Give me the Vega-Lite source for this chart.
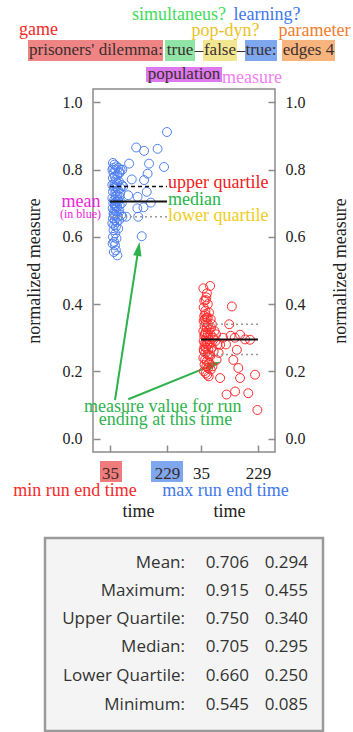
{
 "$schema": "https://vega.github.io/schema/vega-lite/v6.json",
 "width": 182,
 "height": 363,
 "autosize": {"type": "none"},
 "padding": {"left": 93, "top": 89, "right": 78, "bottom": 280},
 "background": "white",
 "config": {
  "font": "Liberation Serif",
  "view": {"stroke": "#8c8c8c", "strokeWidth": 1.5},
  "axis": {"domain": false, "grid": false, "tickSize": -7, "tickColor": "#8c8c8c", "tickWidth": 1.5, "labelFont": "Liberation Serif", "labelFontSize": 16, "labelColor": "#222222", "titleFont": "Liberation Serif", "titleFontSize": 18, "titleFontWeight": "normal", "titleColor": "#222222"}
 },
 "datasets": {
  "table": [
   {"txt": "Mean:", "t": 290.4, "v": -0.3842}, {"txt": "0.706", "t": 508.4, "v": -0.3842}, {"txt": "0.294", "t": 709.4, "v": -0.3842},
   {"txt": "Maximum:", "t": 290.4, "v": -0.4684}, {"txt": "0.915", "t": 508.4, "v": -0.4684}, {"txt": "0.455", "t": 709.4, "v": -0.4684},
   {"txt": "Upper Quartile:", "t": 290.4, "v": -0.5526}, {"txt": "0.750", "t": 508.4, "v": -0.5526}, {"txt": "0.340", "t": 709.4, "v": -0.5526},
   {"txt": "Median:", "t": 290.4, "v": -0.6359}, {"txt": "0.705", "t": 508.4, "v": -0.6359}, {"txt": "0.295", "t": 709.4, "v": -0.6359},
   {"txt": "Lower Quartile:", "t": 290.4, "v": -0.7213}, {"txt": "0.660", "t": 508.4, "v": -0.7213}, {"txt": "0.250", "t": 709.4, "v": -0.7213},
   {"txt": "Minimum:", "t": 290.4, "v": -0.8085}, {"txt": "0.545", "t": 508.4, "v": -0.8085}, {"txt": "0.085", "t": 709.4, "v": -0.8085}
  ],
  "blue": [
   {"t":45,"v":0.82},{"t":50,"v":0.815},{"t":57,"v":0.81},{"t":43,"v":0.80},{"t":53,"v":0.80},{"t":63,"v":0.805},{"t":47,"v":0.79},{"t":60,"v":0.785},{"t":67,"v":0.79},{"t":45,"v":0.775},
   {"t":55,"v":0.77},{"t":50,"v":0.76},{"t":65,"v":0.765},{"t":43,"v":0.755},{"t":57,"v":0.75},{"t":48,"v":0.745},{"t":62,"v":0.74},{"t":71,"v":0.745},{"t":45,"v":0.735},{"t":53,"v":0.73},
   {"t":60,"v":0.725},{"t":67,"v":0.72},{"t":43,"v":0.715},{"t":49,"v":0.71},{"t":56,"v":0.705},{"t":63,"v":0.705},{"t":46,"v":0.70},{"t":52,"v":0.695},{"t":59,"v":0.69},{"t":68,"v":0.695},
   {"t":44,"v":0.685},{"t":50,"v":0.68},{"t":57,"v":0.675},{"t":65,"v":0.68},{"t":47,"v":0.67},{"t":53,"v":0.665},{"t":61,"v":0.66},{"t":73,"v":0.665},{"t":45,"v":0.655},{"t":51,"v":0.65},
   {"t":58,"v":0.645},{"t":66,"v":0.65},{"t":43,"v":0.64},{"t":49,"v":0.635},{"t":55,"v":0.63},{"t":63,"v":0.625},{"t":47,"v":0.62},{"t":53,"v":0.61},{"t":45,"v":0.60},{"t":57,"v":0.595},
   {"t":49,"v":0.585},{"t":52,"v":0.575},{"t":44,"v":0.58},{"t":55,"v":0.56},{"t":60,"v":0.545},{"t":48,"v":0.555},{"t":51,"v":0.70},{"t":55,"v":0.72},{"t":49,"v":0.75},{"t":59,"v":0.76},
   {"t":51,"v":0.78},{"t":46,"v":0.805},{"t":54,"v":0.69},{"t":48,"v":0.665},{"t":62,"v":0.71},{"t":69,"v":0.73},{"t":75,"v":0.70},{"t":77,"v":0.66},{"t":80,"v":0.75},{"t":71,"v":0.80},
   {"t":229,"v":0.912},{"t":124,"v":0.866},{"t":151,"v":0.856},{"t":197,"v":0.862},{"t":168,"v":0.818},{"t":219,"v":0.808},{"t":100,"v":0.818},{"t":163,"v":0.788},{"t":151,"v":0.769},{"t":109,"v":0.771},
   {"t":160,"v":0.734},{"t":129,"v":0.719},{"t":174,"v":0.702},{"t":149,"v":0.688},{"t":128,"v":0.685},{"t":131,"v":0.66},{"t":143,"v":0.602},{"t":97,"v":0.724},{"t":90,"v":0.66},{"t":77,"v":0.80},
   {"t":67,"v":0.793},{"t":75,"v":0.754}
  ],
  "red": [
   {"t":43,"v":0.447},{"t":55,"v":0.432},{"t":66,"v":0.454},{"t":51,"v":0.412},{"t":46,"v":0.41},{"t":58,"v":0.40},{"t":44,"v":0.39},{"t":50,"v":0.38},{"t":62,"v":0.375},{"t":46,"v":0.365},
   {"t":54,"v":0.36},{"t":68,"v":0.355},{"t":44,"v":0.35},{"t":51,"v":0.345},{"t":59,"v":0.34},{"t":72,"v":0.34},{"t":47,"v":0.335},{"t":55,"v":0.33},{"t":64,"v":0.325},{"t":43,"v":0.32},
   {"t":50,"v":0.315},{"t":58,"v":0.31},{"t":67,"v":0.31},{"t":46,"v":0.305},{"t":53,"v":0.30},{"t":61,"v":0.295},{"t":76,"v":0.30},{"t":44,"v":0.29},{"t":49,"v":0.285},{"t":56,"v":0.28},
   {"t":65,"v":0.285},{"t":47,"v":0.275},{"t":52,"v":0.27},{"t":60,"v":0.265},{"t":71,"v":0.27},{"t":45,"v":0.26},{"t":50,"v":0.255},{"t":57,"v":0.25},{"t":66,"v":0.245},{"t":43,"v":0.24},
   {"t":49,"v":0.235},{"t":55,"v":0.23},{"t":63,"v":0.225},{"t":47,"v":0.22},{"t":53,"v":0.215},{"t":59,"v":0.21},{"t":68,"v":0.205},{"t":45,"v":0.20},{"t":51,"v":0.195},{"t":56,"v":0.19},
   {"t":61,"v":0.185},{"t":48,"v":0.355},{"t":54,"v":0.29},{"t":62,"v":0.25},{"t":50,"v":0.37},{"t":44,"v":0.265},{"t":58,"v":0.36},{"t":53,"v":0.42},{"t":48,"v":0.31},{"t":69,"v":0.33},
   {"t":81,"v":0.32},{"t":78,"v":0.26},{"t":84,"v":0.29},{"t":91,"v":0.28},{"t":74,"v":0.215},{"t":86,"v":0.31},
   {"t":140,"v":0.393},{"t":131,"v":0.34},{"t":168,"v":0.309},{"t":202,"v":0.294},{"t":136,"v":0.306},{"t":100,"v":0.279},{"t":157,"v":0.264},{"t":145,"v":0.234},{"t":162,"v":0.21},{"t":168,"v":0.18},
   {"t":219,"v":0.19},{"t":122,"v":0.131},{"t":151,"v":0.14},{"t":196,"v":0.135},{"t":227,"v":0.085},{"t":100,"v":0.18},{"t":88,"v":0.234},{"t":110,"v":0.30},{"t":120,"v":0.28},{"t":95,"v":0.255},
   {"t":150,"v":0.30},{"t":185,"v":0.295}
  ]
 },
 "layer": [
  {
   "encoding": {
    "x": {"field": "t", "type": "quantitative", "scale": {"domain": [-23, 597], "nice": false, "zero": false},
     "axis": {"orient": "bottom", "zindex": 2, "values": [35, 229], "title": "time", "titleX": 45, "titleY": 64.7, "titleBaseline": "alphabetic", "titleAlign": "center", "labelFontSize": 17, "labelPadding": 20, "labelColor": "#3a2a2a"}},
    "y": {"field": "v", "type": "quantitative", "scale": {"domain": [-0.04, 1.04], "nice": false, "zero": false},
     "axis": {"orient": "left", "zindex": 2, "values": [0, 0.2, 0.4, 0.6, 0.8, 1], "format": ".1f", "labelPadding": 18, "title": "normalized measure", "titlePadding": 19}}
   },
   "layer": [
    {"data": {"values": [{"t": -186.5, "t2": 760.5, "v": -0.2959, "v2": -0.8701}]},
     "mark": {"type": "rect", "fill": "#f4f4f4", "stroke": "#9a9a9a", "strokeWidth": 2.5},
     "encoding": {"x2": {"field": "t2"}, "y2": {"field": "v2"}}},
    {"data": {"name": "table"},
     "mark": {"type": "text", "font": "Open Sans", "fontSize": 17, "align": "right", "baseline": "alphabetic", "color": "#333333"},
     "encoding": {"text": {"field": "txt"}}},
    {"data": {"values": [
      {"k": "bgame", "t": -244.4, "t2": 215.5, "v": 1.1858, "v2": 1.1233},
      {"k": "bsim", "t": 222.3, "t2": 324.5, "v": 1.1858, "v2": 1.1233},
      {"k": "bpop", "t": 351.7, "t2": 467.5, "v": 1.1858, "v2": 1.1233},
      {"k": "blearn", "t": 494.8, "t2": 603.8, "v": 1.1858, "v2": 1.1233},
      {"k": "bparam", "t": 620.8, "t2": 801.4, "v": 1.1858, "v2": 1.1233},
      {"k": "bpopu", "t": 157.5, "t2": 416.5, "v": 1.1055, "v2": 1.0608},
      {"k": "blo", "t": 0.85, "t2": 75.8, "v": -0.0668, "v2": -0.1293},
      {"k": "bhi", "t": 174.6, "t2": 283.6, "v": -0.0668, "v2": -0.1293}]},
     "mark": {"type": "rect"},
     "encoding": {"x2": {"field": "t2"}, "y2": {"field": "v2"},
      "color": {"field": "k", "type": "nominal", "legend": null, "scale": {"domain": ["game","sim","pop","learn","param","meas","uq","med","lq","mean","note","minr","maxr","bgame","bsim","bpop","blearn","bparam","bpopu","blo","bhi"], "range": ["#f42a2a","#3ddc5a","#e9c227","#3f78ec","#f27c2c","#f27ff2","#ee2020","#25b548","#f0cc1c","#ee22dd","#2fb24d","#f42a2a","#3f78ec","#ef8484","#8fe4a6","#f3e690","#7ea7ef","#f7b47c","#de78ee","#ef7b7b","#7ea7ef"]}}}},
    {"data": {"values": [
      {"txt": "simultaneus?", "k": "sim", "t": 270, "v": 1.2453},
      {"txt": "learning?", "k": "learn", "t": 569.7, "v": 1.2453},
      {"txt": "game", "k": "game", "t": -208.7, "v": 1.2007},
      {"txt": "pop-dyn?", "k": "pop", "t": 428.4, "v": 1.1977},
      {"txt": "parameter", "k": "param", "t": 731.6, "v": 1.1977},
      {"txt": "measure", "k": "meas", "t": 518.6, "v": 1.0579},
      {"txt": "mean", "k": "mean", "t": -63.9, "v": 0.6898},
      {"txt": "measure value for run", "k": "note", "t": 214.4, "v": 0.0799},
      {"txt": "ending at this time", "k": "note", "t": 224, "v": 0.0403},
      {"txt": "min run end time", "k": "minr", "t": -84.3, "v": -0.1709},
      {"txt": "max run end time", "k": "maxr", "t": 428.4, "v": -0.1709}]},
     "mark": {"type": "text", "fontSize": 18, "align": "center", "baseline": "alphabetic"},
     "encoding": {"text": {"field": "txt"},
      "color": {"field": "k", "type": "nominal", "legend": null, "scale": {"domain": ["game","sim","pop","learn","param","meas","uq","med","lq","mean","note","minr","maxr","bgame","bsim","bpop","blearn","bparam","bpopu","blo","bhi"], "range": ["#f42a2a","#3ddc5a","#e9c227","#3f78ec","#f27c2c","#f27ff2","#ee2020","#25b548","#f0cc1c","#ee22dd","#2fb24d","#f42a2a","#3f78ec","#ef8484","#8fe4a6","#f3e690","#7ea7ef","#f7b47c","#de78ee","#ef7b7b","#7ea7ef"]}}}},
    {"data": {"values": [
      {"txt": "prisoners' dilemma:", "t": -13, "v": 1.1426},
      {"txt": "true", "t": 273.4, "v": 1.1426},
      {"txt": "–", "t": 338.1, "v": 1.1426},
      {"txt": "false", "t": 409.6, "v": 1.1426},
      {"txt": "–", "t": 481.2, "v": 1.1426},
      {"txt": "true:", "t": 549.3, "v": 1.1426},
      {"txt": "edges 4", "t": 711.1, "v": 1.1426},
      {"txt": "population", "t": 287, "v": 1.0698}]},
     "mark": {"type": "text", "fontSize": 17, "align": "center", "baseline": "alphabetic", "color": "#3b2f2f"},
     "encoding": {"text": {"field": "txt"}}},
    {"data": {"name": "blue"},
     "mark": {"type": "point", "shape": "circle", "filled": false, "size": 80, "strokeWidth": 1, "color": "#4f7ff0", "opacity": 1}},
    {"data": {"values": [{"stat": "upper quartile", "t": 35, "t2": 229, "v": 0.750}]},
     "mark": {"type": "rule", "color": "#111111", "strokeWidth": 1.5, "strokeDash": [4, 3]},
     "encoding": {"x2": {"field": "t2"}}},
    {"data": {"values": [{"stat": "median", "t": 35, "t2": 229, "v": 0.705}]},
     "mark": {"type": "rule", "color": "#111111", "strokeWidth": 2},
     "encoding": {"x2": {"field": "t2"}}},
    {"data": {"values": [{"stat": "lower quartile", "t": 35, "t2": 229, "v": 0.660}]},
     "mark": {"type": "rule", "color": "#999999", "strokeWidth": 1.5, "strokeDash": [2, 3]},
     "encoding": {"x2": {"field": "t2"}}},
    {"data": {"values": [
      {"txt": "upper quartile", "k": "uq", "t": 232.5, "v": 0.7446},
      {"txt": "median", "k": "med", "t": 232.5, "v": 0.6949},
      {"txt": "lower quartile", "k": "lq", "t": 232.5, "v": 0.6473}]},
     "mark": {"type": "text", "fontSize": 18, "align": "left", "baseline": "alphabetic"},
     "encoding": {"text": {"field": "txt"},
      "color": {"field": "k", "type": "nominal", "legend": null, "scale": {"domain": ["game","sim","pop","learn","param","meas","uq","med","lq","mean","note","minr","maxr","bgame","bsim","bpop","blearn","bparam","bpopu","blo","bhi"], "range": ["#f42a2a","#3ddc5a","#e9c227","#3f78ec","#f27c2c","#f27ff2","#ee2020","#25b548","#f0cc1c","#ee22dd","#2fb24d","#f42a2a","#3f78ec","#ef8484","#8fe4a6","#f3e690","#7ea7ef","#f7b47c","#de78ee","#ef7b7b","#7ea7ef"]}}}},
    {"data": {"values": [{"txt": "(in blue)", "t": -65.6, "v": 0.6553}]},
     "mark": {"type": "text", "fontSize": 12, "align": "center", "baseline": "alphabetic", "color": "#ee22dd"},
     "encoding": {"text": {"field": "txt"}}},
    {"data": {"values": [
      {"t": 51.9, "v": 0.1147, "t2": 131.7, "v2": 0.5643},
      {"t": 97.3, "v": 0.1168, "t2": 389.9, "v2": 0.2209}]},
     "mark": {"type": "rule", "color": "#2fb24d", "strokeWidth": 2},
     "encoding": {"x2": {"field": "t2"}, "y2": {"field": "v2"}}},
    {"data": {"values": [{"t": 131.7, "v": 0.5643}]},
     "mark": {"type": "point", "shape": "M0,-1L0.6,1L-0.6,1Z", "filled": true, "size": 196, "color": "#2fb24d", "opacity": 1, "angle": 8.8}},
    {"data": {"values": [{"t": 389.9, "v": 0.2209}]},
     "mark": {"type": "point", "shape": "M0,-1L0.6,1L-0.6,1Z", "filled": true, "size": 196, "color": "#2fb24d", "opacity": 1, "angle": 67.9}}
   ]
  },
  {
   "encoding": {
    "x": {"field": "t", "type": "quantitative", "scale": {"domain": [-333, 287], "nice": false, "zero": false},
     "axis": {"orient": "bottom", "zindex": 2, "values": [35, 229], "title": "time", "titleX": 136, "titleY": 64.7, "titleBaseline": "alphabetic", "titleAlign": "center", "labelFontSize": 17, "labelPadding": 20}},
    "y": {"field": "v", "type": "quantitative", "scale": {"domain": [-0.04, 1.04], "nice": false, "zero": false},
     "axis": {"orient": "right", "zindex": 2, "values": [0, 0.2, 0.4, 0.6, 0.8, 1], "format": ".1f", "labelPadding": 17, "title": "normalized measure", "titleAngle": -90, "titleBaseline": "top", "titlePadding": 26}}
   },
   "layer": [
    {"data": {"name": "red"},
     "mark": {"type": "point", "shape": "circle", "filled": false, "size": 80, "strokeWidth": 1, "color": "#ff2a2a", "opacity": 1}},
    {"data": {"values": [{"stat": "upper quartile", "t": 35, "t2": 229, "v": 0.340}, {"stat": "lower quartile", "t": 35, "t2": 229, "v": 0.250}]},
     "mark": {"type": "rule", "color": "#999999", "strokeWidth": 1.5, "strokeDash": [2, 3]},
     "encoding": {"x2": {"field": "t2"}}},
    {"data": {"values": [{"stat": "median", "t": 35, "t2": 229, "v": 0.295}]},
     "mark": {"type": "rule", "color": "#111111", "strokeWidth": 2},
     "encoding": {"x2": {"field": "t2"}}}
   ]
  }
 ],
 "resolve": {"scale": {"x": "independent"}, "axis": {"x": "independent", "y": "independent"}}
}
